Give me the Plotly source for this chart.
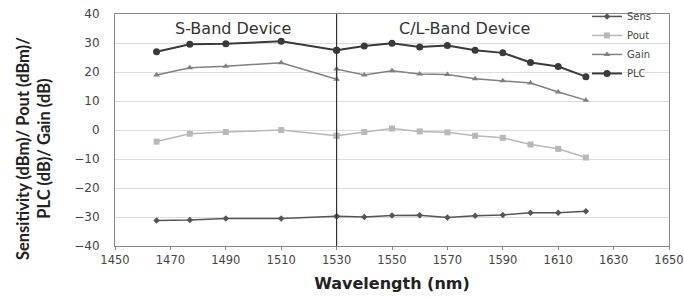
import plotly.graph_objects as go

wavelength = [1465, 1477, 1490, 1510, 1530, 1530, 1540, 1550, 1560, 1570, 1580, 1590, 1600, 1610, 1620]
sens = [-31.2, -31.0, -30.5, -30.5, -29.7, -29.7, -30.0, -29.5, -29.4, -30.2, -29.6, -29.3, -28.5, -28.5, -28.0]
pout = [-4.0, -1.3, -0.7, 0.0, -2.0, -2.0, -0.7, 0.5, -0.5, -0.8, -2.0, -2.7, -5.0, -6.5, -9.5]
gain = [19.0, 21.5, 22.0, 23.2, 17.5, 21.0, 19.0, 20.4, 19.3, 19.1, 17.7, 17.0, 16.2, 13.1, 10.3]
plc = [27.0, 29.6, 29.7, 30.6, 27.5, 27.5, 29.0, 29.9, 28.6, 29.1, 27.5, 26.6, 23.3, 21.9, 18.4]
x_ticks = [1450, 1470, 1490, 1510, 1530, 1550, 1570, 1590, 1610, 1630, 1650]
y_ticks = [-40, -30, -20, -10, 0, 10, 20, 30, 40]

fig = go.Figure()
fig.add_trace(go.Scatter(x=wavelength, y=sens, name="Sens", mode="lines+markers",
                         line=dict(color="#555555", width=1.5),
                         marker=dict(symbol="diamond", size=5, color="#555555")))
fig.add_trace(go.Scatter(x=wavelength, y=pout, name="Pout", mode="lines+markers",
                         line=dict(color="#b8b8b8", width=1.5),
                         marker=dict(symbol="square", size=6, color="#b8b8b8")))
fig.add_trace(go.Scatter(x=wavelength, y=gain, name="Gain", mode="lines+markers",
                         line=dict(color="#808080", width=1.5),
                         marker=dict(symbol="triangle-up", size=6, color="#808080")))
fig.add_trace(go.Scatter(x=wavelength, y=plc, name="PLC", mode="lines+markers",
                         line=dict(color="#3a3a3a", width=2),
                         marker=dict(symbol="circle", size=7, color="#3a3a3a")))

fig.add_shape(type="line", x0=1530, x1=1530, y0=-40, y1=40, xref="x", yref="y",
              line=dict(color="#333333", width=1.2))

fig.add_annotation(x=1492.5, y=35, text="S-Band Device", showarrow=False,
                   font=dict(family="DejaVu Sans", size=16, color="#333333"))
fig.add_annotation(x=1576, y=35, text="C/L-Band Device", showarrow=False,
                   font=dict(family="DejaVu Sans", size=16, color="#333333"))
fig.add_annotation(x=-0.148, y=0.418, xref="paper", yref="paper", textangle=-90,
                   xanchor="center", yanchor="middle", showarrow=False,
                   text="<b>Sensitivity (dBm)/ Pout (dBm)/<br>PLC (dB)/ Gain (dB)</b>",
                   font=dict(family="Lato", size=16.5, color="#222222"))

fig.update_layout(
    width=684, height=299,
    margin=dict(l=115, r=15, t=14, b=53, autoexpand=False),
    paper_bgcolor="white", plot_bgcolor="white",
    font=dict(family="DejaVu Sans", color="#444444"),
    legend=dict(x=0.852, y=1.052, xanchor="left", yanchor="top",
                bgcolor="rgba(0,0,0,0)", font=dict(size=10, color="#444444"),
                itemwidth=30, tracegroupgap=0),
    xaxis=dict(range=[1450, 1650], tickvals=x_ticks, showgrid=False, automargin=False,
               showline=True, linecolor="#888888", mirror=True,
               ticks="outside", ticklen=3, tickcolor="#888888",
               tickfont=dict(size=11.5, color="#444444"), ticklabelstandoff=0,
               ticklabeloverflow="allow",
               title=dict(text="<b>Wavelength (nm)</b>", font=dict(size=16, color="#222222"), standoff=12),
               zeroline=False),
    yaxis=dict(range=[-40, 40], tickvals=y_ticks, showgrid=True, gridcolor="#dddddd", automargin=False,
               showline=True, linecolor="#888888", mirror=True,
               ticks="", tickfont=dict(size=12, color="#444444"), ticklabelstandoff=12,
               ticklabeloverflow="allow",
               zeroline=False),
)

fig.write_html("out.html", config={"displayModeBar": False},
               post_script="document.body.style.margin='0px';document.body.style.overflow='hidden';")
